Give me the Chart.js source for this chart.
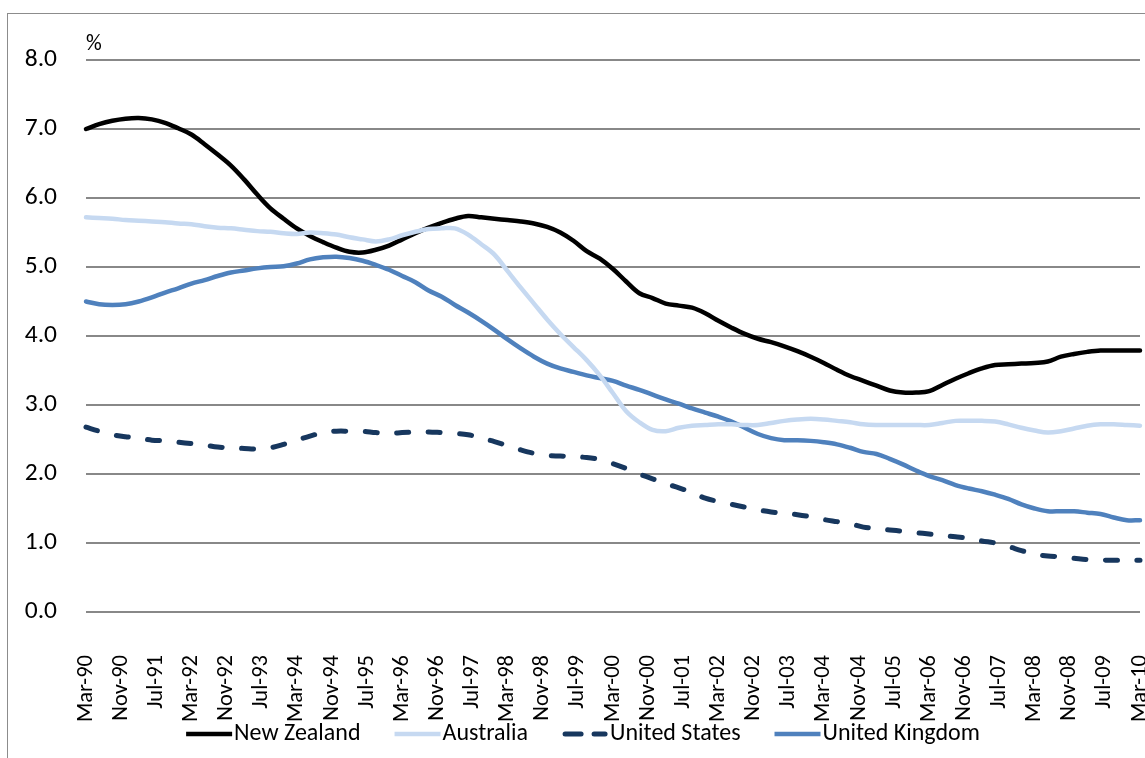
<!DOCTYPE html>
<html>
<head>
<meta charset="utf-8">
<title>Long-term interest rates</title>
<script src="https://cdn.jsdelivr.net/npm/chart.js@4/dist/chart.umd.min.js"></script>
<style>
  html, body { margin: 0; padding: 0; background: #fff; overflow: hidden; }
  #wrap { position: relative; width: 1145px; height: 758px; overflow: hidden; }
  #frame { position: absolute; left: 7px; top: 13px; width: 1300px; height: 900px;
           border: 1.5px solid #8c8c8c; box-sizing: border-box; }
  canvas { position: absolute; left: 0; top: 0; }
</style>
</head>
<body>
<div id="wrap">
  <div id="frame"></div>
  <canvas id="chart" width="1145" height="758"></canvas>
</div>
<script>
// Axis labels every eight months, Mar-90 through Mar-10
const tickLabels = [
  'Mar-90','Nov-90','Jul-91','Mar-92','Nov-92','Jul-93','Mar-94','Nov-94',
  'Jul-95','Mar-96','Nov-96','Jul-97','Mar-98','Nov-98','Jul-99','Mar-00',
  'Nov-00','Jul-01','Mar-02','Nov-02','Jul-03','Mar-04','Nov-04','Jul-05',
  'Mar-06','Nov-06','Jul-07','Mar-08','Nov-08','Jul-09','Mar-10'
];
const MONTHS_PER_TICK = 8;
const MONTHS_PER_OBS = 3;   // quarterly observations, Mar-90 .. Mar-10

const seriesNames = ['New Zealand', 'Australia', 'United States', 'United Kingdom'];

// Quarterly values, %
const newZealand = [
  7.00,7.07,7.12,7.15,7.16,7.14,7.09,7.01,6.92,6.78,
  6.63,6.47,6.27,6.05,5.85,5.70,5.56,5.45,5.36,5.28,
  5.22,5.21,5.25,5.31,5.40,5.49,5.57,5.64,5.70,5.74,
  5.72,5.70,5.68,5.66,5.63,5.58,5.50,5.38,5.23,5.12,
  4.97,4.79,4.62,4.55,4.47,4.44,4.41,4.33,4.22,4.12,
  4.03,3.96,3.91,3.85,3.78,3.70,3.61,3.51,3.42,3.35,
  3.28,3.21,3.18,3.18,3.20,3.29,3.38,3.46,3.53,3.58,
  3.59,3.60,3.61,3.63,3.70,3.74,3.77,3.79,3.79,3.79,
  3.79
];
const australia = [
  5.72,5.71,5.70,5.68,5.67,5.66,5.65,5.63,5.62,5.59,
  5.57,5.56,5.54,5.52,5.51,5.49,5.48,5.50,5.49,5.47,
  5.43,5.40,5.37,5.40,5.46,5.51,5.55,5.56,5.56,5.47,
  5.33,5.18,4.94,4.70,4.47,4.24,4.03,3.84,3.65,3.43,
  3.17,2.91,2.75,2.64,2.62,2.67,2.70,2.71,2.72,2.72,
  2.71,2.71,2.74,2.77,2.79,2.80,2.79,2.77,2.75,2.72,
  2.71,2.71,2.71,2.71,2.71,2.74,2.77,2.77,2.77,2.76,
  2.72,2.67,2.63,2.60,2.62,2.66,2.70,2.72,2.72,2.71,
  2.70
];
const unitedStates = [
  2.68,2.62,2.57,2.54,2.52,2.49,2.48,2.46,2.44,2.42,
  2.39,2.38,2.37,2.36,2.38,2.43,2.49,2.55,2.60,2.62,
  2.62,2.62,2.60,2.59,2.60,2.61,2.61,2.60,2.59,2.57,
  2.52,2.47,2.41,2.35,2.30,2.27,2.26,2.25,2.24,2.21,
  2.15,2.08,2.00,1.93,1.86,1.80,1.73,1.65,1.60,1.56,
  1.52,1.48,1.45,1.43,1.41,1.38,1.34,1.31,1.28,1.23,
  1.21,1.19,1.17,1.15,1.13,1.11,1.09,1.07,1.03,1.00,
  0.95,0.89,0.84,0.81,0.80,0.78,0.76,0.75,0.75,0.75,
  0.75
];
const unitedKingdom = [
  4.50,4.46,4.45,4.46,4.50,4.56,4.63,4.69,4.76,4.81,
  4.87,4.92,4.95,4.98,5.00,5.01,5.05,5.11,5.14,5.15,
  5.13,5.09,5.03,4.96,4.87,4.78,4.66,4.57,4.45,4.34,
  4.22,4.09,3.95,3.82,3.70,3.60,3.53,3.48,3.43,3.39,
  3.35,3.28,3.22,3.15,3.08,3.02,2.95,2.89,2.83,2.76,
  2.67,2.58,2.52,2.49,2.49,2.48,2.46,2.43,2.38,2.32,
  2.29,2.22,2.14,2.05,1.97,1.91,1.84,1.79,1.75,1.70,
  1.64,1.56,1.50,1.46,1.46,1.46,1.44,1.42,1.37,1.33,
  1.33
];

const yTicks = [0, 1, 2, 3, 4, 5, 6, 7, 8];

const FONT = 'Carlito, Lato, "Liberation Sans", sans-serif';

function toPoints(values) {
  return values.map((v, i) => ({ x: i * MONTHS_PER_OBS, y: v }));
}

const styles = [
  { color: '#000000', width: 4.5, dash: [] },
  { color: '#c6d9f1', width: 4.5, dash: [] },
  { color: '#17375e', width: 5,   dash: [12, 19.5] },
  { color: '#4f81bd', width: 4.5, dash: [] }
];
const seriesValues = [newZealand, australia, unitedStates, unitedKingdom];

const datasets = seriesNames.map((name, i) => ({
  label: name,
  data: toPoints(seriesValues[i]),
  borderColor: styles[i].color,
  backgroundColor: styles[i].color,
  borderWidth: styles[i].width,
  borderDash: styles[i].dash,
  borderCapStyle: 'round',
  borderJoinStyle: 'round',
  pointRadius: 0,
  tension: 0.35,
  fill: false,
  clip: 6
}));
// stacking order of the lines (lower order is drawn on top)
const drawOrder = [3, 2, 1, 4];
datasets.forEach((d, i) => { d.order = drawOrder[i]; });

// Legend row and the "%" unit caption
const extras = {
  id: 'extras',
  afterDraw(chart) {
    const ctx = chart.ctx;
    const area = chart.chartArea;
    ctx.save();
    ctx.fillStyle = '#000';
    ctx.font = '22px ' + FONT;
    ctx.textBaseline = 'middle';
    ctx.textAlign = 'left';
    ctx.fillText('%', area.left, 44);

    ctx.font = '24px ' + FONT;
    const sample = 46, gap = 2, spacing = 34, y = 734;
    const items = chart.data.datasets.map(ds => ({
      text: ds.label, color: ds.borderColor, width: ds.borderWidth, dash: ds.borderDash
    }));
    const widths = items.map(it => ctx.measureText(it.text).width);
    const total = widths.reduce((a, b) => a + b, 0) + items.length * (sample + gap) + spacing * (items.length - 1);
    let x = 583 - total / 2;
    items.forEach((it, i) => {
      ctx.beginPath();
      ctx.strokeStyle = it.color;
      ctx.lineWidth = it.width;
      ctx.lineCap = it.dash.length ? 'round' : 'butt';
      ctx.setLineDash(it.dash.length ? [16, 13] : []);
      ctx.moveTo(x + (it.dash.length ? 3 : 0), y);
      ctx.lineTo(x + sample - (it.dash.length ? 3 : 0), y);
      ctx.stroke();
      ctx.setLineDash([]);
      ctx.fillStyle = '#000';
      ctx.fillText(it.text, x + sample + gap, y);
      x += sample + gap + widths[i] + spacing;
    });
    ctx.restore();
  }
};

new Chart(document.getElementById('chart'), {
  type: 'line',
  data: { datasets },
  options: {
    responsive: false,
    animation: false,
    events: [],
    layout: { padding: { top: 60, right: 5, bottom: 26, left: 0 } },
    plugins: { legend: { display: false }, tooltip: { enabled: false } },
    scales: {
      x: {
        type: 'linear',
        min: 0,
        max: (tickLabels.length - 1) * MONTHS_PER_TICK,
        grid: { display: false, drawTicks: false },
        border: { display: false },
        afterBuildTicks(scale) {
          scale.ticks = tickLabels.map((_, i) => ({ value: i * MONTHS_PER_TICK }));
        },
        afterFit(scale) {
          scale.height = 120;
          scale.paddingLeft = 0;
          scale.paddingRight = 0;
        },
        ticks: {
          autoSkip: false,
          maxRotation: 90,
          minRotation: 90,
          padding: 43,
          color: '#000',
          font: { family: FONT, size: 22.5 },
          callback: (value) => tickLabels[Math.round(value / MONTHS_PER_TICK)]
        }
      },
      y: {
        min: 0,
        max: 8,
        afterBuildTicks(scale) {
          scale.ticks = yTicks.map(v => ({ value: v }));
        },
        afterFit(scale) {
          scale.width = 86;
          scale.paddingTop = 0;
          scale.paddingBottom = 0;
        },
        grid: { color: '#888888', lineWidth: 2, drawTicks: false },
        border: { display: false },
        ticks: {
          padding: 29,
          color: '#000',
          font: { family: FONT, size: 25.5 },
          callback: (v) => Number(v).toFixed(1)
        }
      }
    }
  },
  plugins: [extras]
});
</script>
</body>
</html>
